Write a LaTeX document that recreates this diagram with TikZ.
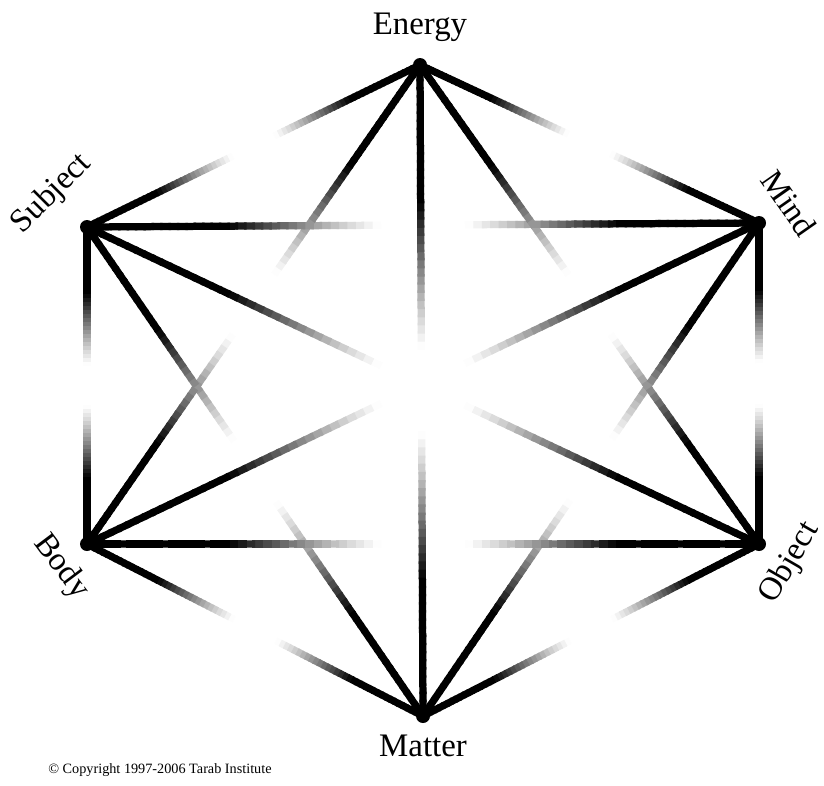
\documentclass[tikz,border=0pt]{standalone}
\usepackage{fontspec}
\setmainfont{Liberation Serif}
\usetikzlibrary{calc}

\tikzset{
    edge/.style={line width=0.145cm, line cap=butt},
    vertex/.style={circle, fill=black, inner sep=0pt, minimum size=0.28cm},
    label/.style={font=\fontsize{18.7}{22}\selectfont, inner sep=0pt}
}

\begin{document}
\begin{tikzpicture}[x=0.02cm, y=-0.02cm]
    \useasboundingbox (0, 0) rectangle (824, 785);

    \coordinate (energy) at (420, 65);
    \coordinate (mind) at (759, 223);
    \coordinate (object) at (759, 544);
    \coordinate (matter) at (423, 716);
    \coordinate (body) at (87, 544);
    \coordinate (subject) at (87, 227);

    % every edge is black at its ends and fades out in the middle;
    % the pieces go from the middle outwards, so darker ones lie on top
    \foreach \j in {0,...,39} {
        \pgfmathsetmacro{\ta}{0.5+\j/80}
        \pgfmathsetmacro{\tb}{0.5+(\j+1.3)/80}
        \pgfmathsetmacro{\sa}{1-\ta}
        \pgfmathsetmacro{\sb}{1-\tb}
        \pgfmathsetmacro{\shade}{100*(min(1,max(0,((\j+0.5)/80-0.065)/0.225)))^1.15}
        \foreach \a/\b in {energy/mind, mind/object, object/matter, matter/body,
                body/subject, subject/energy, subject/mind, body/object,
                energy/body, energy/object, matter/subject, matter/mind,
                energy/matter, subject/object, body/mind} {
            \draw[edge, draw=black!\shade] ($(\a)!\ta!(\b)$) -- ($(\a)!\tb!(\b)$);
            \draw[edge, draw=black!\shade] ($(\a)!\sa!(\b)$) -- ($(\a)!\sb!(\b)$);
        }
    }

    \node[vertex] (energydot) at (energy) {};
    \node[vertex] (minddot) at (mind) {};
    \node[vertex] (objectdot) at (object) {};
    \node[vertex] (matterdot) at (matter) {};
    \node[vertex] (bodydot) at (body) {};
    \node[vertex] (subjectdot) at (subject) {};

    \node[label] (energylbl) at (420, 27) {Energy};
    \node[label] (matterlbl) at (423, 746) {Matter};
    \node[label, rotate=45] (subjectlbl) at (52, 194) {Subject};
    \node[label, rotate=-55] (mindlbl) at (789, 203) {Mind};
    \node[label, rotate=-53] (bodylbl) at (61, 567) {Body};
    \node[label, rotate=60] (objectlbl) at (790, 563) {Object};
    \node[font=\fontsize{8.1}{10}\selectfont, anchor=west, inner sep=0pt] (copyright) at (48, 770) {© Copyright 1997-2006 Tarab Institute};
\end{tikzpicture}
\end{document}
